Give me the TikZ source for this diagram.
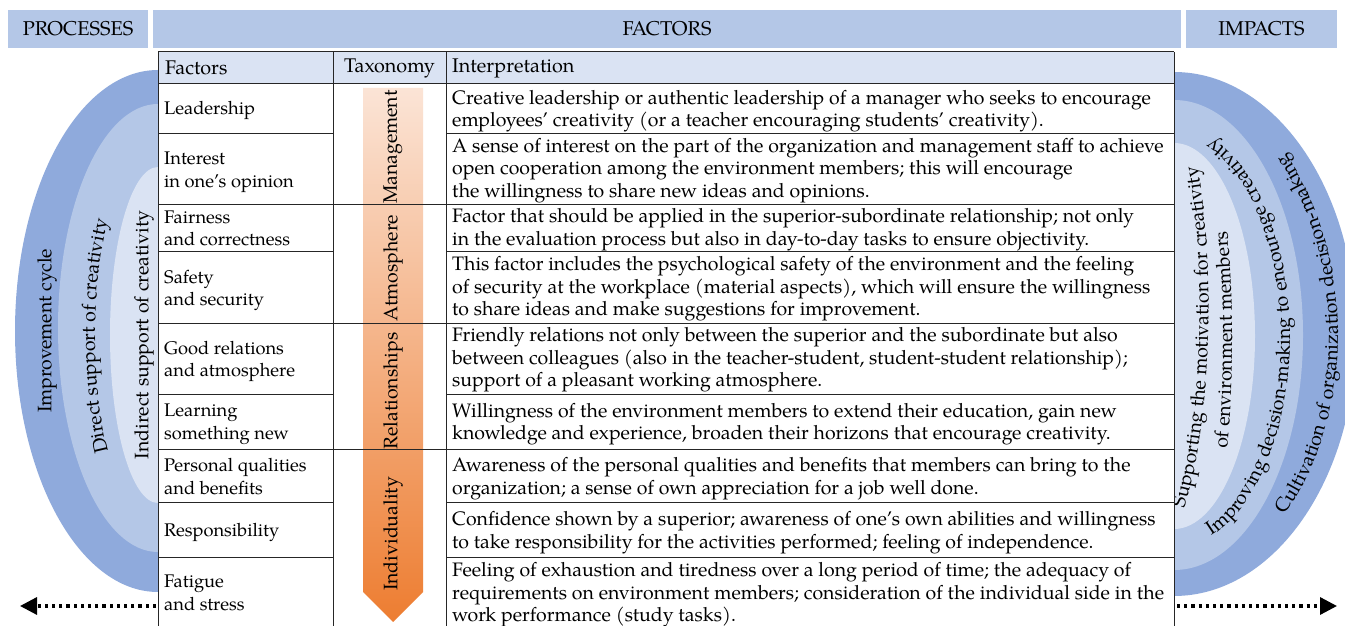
\documentclass[tikz,border=0pt]{standalone}
\usepackage{fontspec}
\setmainfont{TeX Gyre Pagella}
\usetikzlibrary{arrows.meta,decorations.text}
\definecolor{ringA}{HTML}{8FAADC}
\definecolor{ringB}{HTML}{B4C7E7}
\definecolor{ringC}{HTML}{DAE3F3}
\definecolor{hdr}{HTML}{B4C7E7}
\definecolor{thdr}{HTML}{DAE3F3}
\definecolor{orTop}{HTML}{FBE4D6}
\definecolor{orBot}{HTML}{ED7D31}
\newcommand\arcfont{\fontsize{19.5}{22}\selectfont}
\begin{document}
\begin{tikzpicture}[x=1pt,y=1pt,
  hbox/.style={fill=hdr, draw=none, inner sep=0, font=\fontsize{20}{22}\selectfont},
  tline/.style={line width=1pt, draw=black!85},
  ftext/.style={anchor=west, align=left, inner sep=0, font=\fontsize{18.3}{22.5}\selectfont},
  ctext/.style={anchor=west, align=left, inner sep=0, font=\fontsize{19.5}{22.5}\selectfont},
  htext/.style={inner sep=0, font=\fontsize{19.8}{22.5}\selectfont},
  taxtext/.style={rotate=90, inner sep=0, font=\fontsize{19.5}{22}\selectfont},
  ringtext/.style={rotate=90, inner sep=0, font=\arcfont},
  dotarrow/.style={line width=3.2pt, dash pattern=on 3.2pt off 4pt, -{Triangle[length=17pt,width=17pt]}},
  arctext/.style={decorate, decoration={text along path, text align=center, text={|\arcfont|#1}}}
]
\useasboundingbox (0,0) rectangle (1345,626);

% left rings
\fill[ringA] (158,556) arc[start angle=90,end angle=270,x radius=143,y radius=261] -- cycle;
\fill[ringB] (158,522) arc[start angle=90,end angle=270,x radius=100,y radius=224] -- cycle;
\fill[ringC] (158,459) arc[start angle=90,end angle=270,x radius=48,y radius=168] -- cycle;
% right rings
\fill[ringA] (1174,554) arc[start angle=90,end angle=-90,x radius=182,y radius=262] -- cycle;
\fill[ringB] (1174,526) arc[start angle=90,end angle=-90,x radius=129,y radius=235] -- cycle;
\fill[ringC] (1174,483) arc[start angle=90,end angle=-90,x radius=81,y radius=193] -- cycle;

% left ring texts
\node[ringtext] (lt1) at (47,295) {Improvement cycle};
\path[arctext={Direct support of creativity}] (141.7,106.5) arc[start angle=255,end angle=105,x radius=63,y radius=190];
\node[ringtext] (lt3) at (144,291) {Indirect support of creativity};

% right ring texts
\path[arctext={Supporting the motivation for creativity}] (1183,111) .. controls (1213,206) and (1215,366) .. (1197,466);
\path[arctext={of environment members}] (1184.1,10.3) arc[start angle=-80,end angle=80,x radius=58,y radius=280];
\path[arctext={Improving decision-making to encourage creativity}] (1184.1,79.8) arc[start angle=-85,end angle=85,x radius=116,y radius=210];
\path[arctext={Cultivation of organization decision-making}] (1188.3,47.9) arc[start angle=-85,end angle=85,x radius=164,y radius=245];

% table background
\fill[white] (158,574) rectangle (1174,-5);
\fill[thdr] (158,574) rectangle (1174,542);

% taxonomy arrow
\shade[top color=orTop, bottom color=orBot] (363,538) -- (423,538) -- (423,34) -- (393,4) -- (363,34) -- cycle;
\node[taxtext] (tx1) at (393,479) {Management};
\node[taxtext] (tx2) at (393,358) {Atmosphere};
\node[taxtext] (tx3) at (393,235) {Relationships};
\node[taxtext] (tx4) at (393,92) {Individuality};

% table lines
\draw[tline] (158,574) -- (1174,574);
\draw[tline] (158,542) -- (1174,542);
\draw[tline] (158,421) -- (1174,421);
\draw[tline] (158,302) -- (1174,302);
\draw[tline] (158,176) -- (1174,176);
\foreach \yy in {492,374,231,123,68}{
  \draw[tline] (158,\yy) -- (333,\yy);
  \draw[tline] (446,\yy) -- (1174,\yy);
}
\foreach \xx in {158,333,446,1174}{
  \draw[tline] (\xx,574) -- (\xx,-5);
}

% header row
\node[htext, anchor=west] (h1) at (165,558) {Factors};
\node[htext] (h2) at (389.5,558) {Taxonomy};
\node[htext, anchor=west] (h3) at (452,558) {Interpretation};

% factors column
\node[ftext] (f1) at (164,516) {\strut Leadership};
\node[ftext] (f2) at (164,454.5) {\strut Interest\\ in one's opinion\strut};
\node[ftext] (f3) at (164,396) {\strut Fairness\\ and correctness\strut};
\node[ftext] (f4) at (164,336) {\strut Safety\\ and security\strut};
\node[ftext] (f5) at (164,265) {\strut Good relations\\ and atmosphere\strut};
\node[ftext] (f6) at (164,202.5) {\strut Learning\\ something new\strut};
\node[ftext] (f7) at (164,147.5) {\strut Personal qualities\\ and benefits\strut};
\node[ftext] (f8) at (164,94) {\strut Responsibility};
\node[ftext] (f9) at (164,31.5) {\strut Fatigue\\ and stress\strut};

% interpretation column
\node[ctext] (i1) at (452,515) {\strut Creative leadership or authentic leadership of a manager who seeks to encourage\\ employees' creativity (or a teacher encouraging students' creativity).\strut};
\node[ctext] (i2) at (452,455.7) {\strut A sense of interest on the part of the organization and management staff to achieve\\ open cooperation among the environment members; this will encourage\\ the willingness to share new ideas and opinions.\strut};
\node[ctext] (i3) at (452,396.5) {\strut Factor that should be applied in the superior-subordinate relationship; not only\\ in the evaluation process but also in day-to-day tasks to ensure objectivity.\strut};
\node[ctext] (i4) at (452,337) {\strut This factor includes the psychological safety of the environment and the feeling\\ of security at the workplace (material aspects), which will ensure the willingness\\ to share ideas and make suggestions for improvement.\strut};
\node[ctext] (i5) at (452,266) {\strut Friendly relations not only between the superior and the subordinate but also\\ between colleagues (also in the teacher-student, student-student relationship);\\ support of a pleasant working atmosphere.\strut};
\node[ctext] (i6) at (452,202) {\strut Willingness of the environment members to extend their education, gain new\\ knowledge and experience, broaden their horizons that encourage creativity.\strut};
\node[ctext] (i7) at (452,147.5) {\strut Awareness of the personal qualities and benefits that members can bring to the\\ organization; a sense of own appreciation for a job well done.\strut};
\node[ctext] (i8) at (452,93.5) {\strut Confidence shown by a superior; awareness of one's own abilities and willingness\\ to take responsibility for the activities performed; feeling of independence.\strut};
\node[ctext] (i9) at (452,31) {\strut Feeling of exhaustion and tiredness over a long period of time; the adequacy of\\ requirements on environment members; consideration of the individual side in the\\ work performance (study tasks).\strut};

% header boxes
\node[hbox, minimum width=140, minimum height=38] (proc) at (78,597) {PROCESSES};
\node[hbox, minimum width=1028, minimum height=38] (fact) at (667,597) {FACTORS};
\node[hbox, minimum width=151, minimum height=38] (imp) at (1261.5,597) {IMPACTS};

% dotted arrows
\coordinate (la0) at (156,20);
\coordinate (la1) at (20,20);
\coordinate (ra0) at (1177,20);
\coordinate (ra1) at (1337,20);
\draw[dotarrow] (la0) -- (la1);
\draw[dotarrow] (ra0) -- (ra1);
\end{tikzpicture}
\end{document}
